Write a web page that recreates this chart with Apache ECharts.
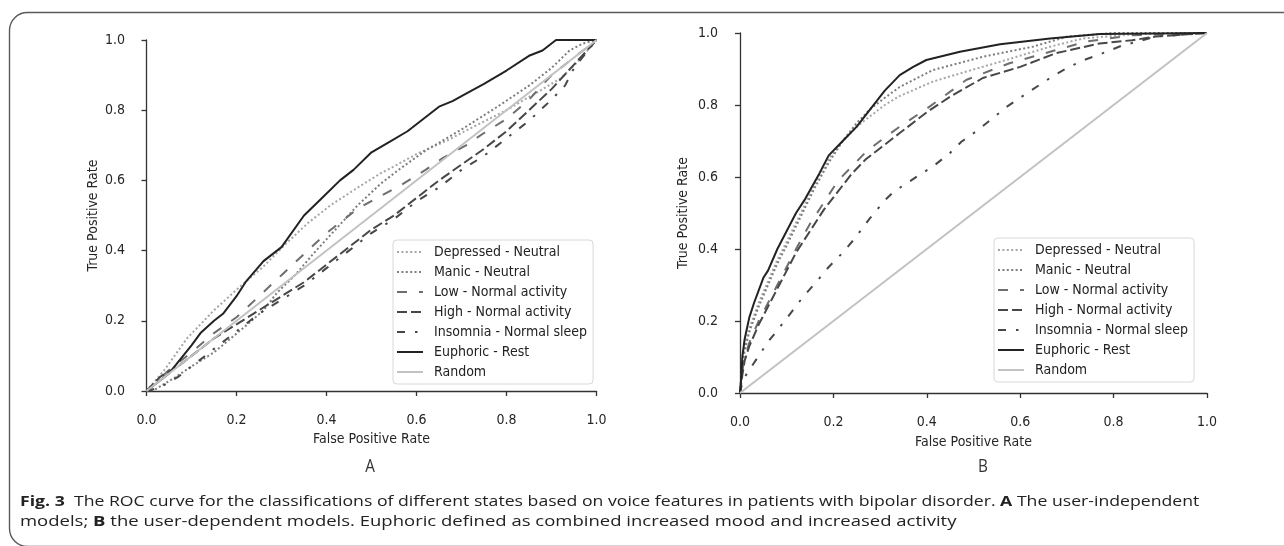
<!DOCTYPE html>
<html>
<head>
<meta charset="utf-8">
<script src="https://cdn.jsdelivr.net/npm/echarts@6/dist/echarts.min.js"></script>
<style>
html,body{margin:0;padding:0;background:#fff;}
#main{width:1284px;height:546px;}
</style>
</head>
<body>
<div id="main"></div>
<script>
// legend names, in plotting order
var names = ['Depressed - Neutral', 'Manic - Neutral', 'Low - Normal activity',
	'High - Normal activity', 'Insomnia - Normal sleep', 'Euphoric - Rest', 'Random'];

// panel A : user-independent models  [fpr, tpr]
var depressedA = [[0,0],[0.04,0.06],[0.09,0.15],[0.15,0.23],[0.21,0.3],[0.26,0.355],[0.31,0.42],[0.36,0.48],
	[0.41,0.53],[0.47,0.58],[0.52,0.62],[0.55,0.64],[0.6,0.675],[0.67,0.715],[0.73,0.755],[0.8,0.8],
	[0.86,0.845],[0.92,0.89],[0.96,0.94],[1,1]];
var manicA = [[0,0],[0.02,0.005],[0.065,0.04],[0.1,0.07],[0.15,0.11],[0.22,0.185],[0.26,0.23],[0.29,0.28],
	[0.33,0.33],[0.37,0.39],[0.42,0.46],[0.47,0.53],[0.52,0.59],[0.56,0.63],[0.62,0.685],[0.7,0.745],
	[0.78,0.81],[0.85,0.87],[0.9,0.92],[0.94,0.97],[0.97,0.99],[1,1]];
var lowA = [[0,0],[0.05,0.06],[0.1,0.11],[0.15,0.165],[0.2,0.21],[0.25,0.27],[0.3,0.33],[0.35,0.39],
	[0.4,0.45],[0.47,0.52],[0.52,0.555],[0.57,0.59],[0.62,0.63],[0.66,0.665],[0.71,0.7],[0.75,0.735],
	[0.8,0.775],[0.85,0.83],[0.9,0.9],[0.95,0.95],[1,1]];
var highA = [[0,0],[0.03,0.04],[0.07,0.07],[0.1,0.1],[0.15,0.15],[0.2,0.19],[0.25,0.23],[0.3,0.27],
	[0.35,0.31],[0.4,0.36],[0.45,0.41],[0.5,0.46],[0.55,0.5],[0.6,0.55],[0.65,0.6],[0.7,0.645],
	[0.75,0.69],[0.8,0.74],[0.85,0.8],[0.9,0.86],[0.95,0.93],[1,1]];
var insomniaA = [[0,0],[0.03,0.01],[0.07,0.04],[0.1,0.07],[0.15,0.12],[0.2,0.17],[0.23,0.2],[0.25,0.22],
	[0.3,0.26],[0.35,0.3],[0.4,0.35],[0.45,0.4],[0.5,0.45],[0.55,0.49],[0.6,0.54],[0.65,0.58],
	[0.7,0.63],[0.75,0.67],[0.8,0.72],[0.85,0.77],[0.9,0.83],[0.93,0.87],[0.95,0.92],[1,1]];
var euphoricA = [[0,0],[0.02,0.02],[0.05,0.05],[0.075,0.09],[0.1,0.13],[0.12,0.165],[0.15,0.2],[0.17,0.22],
	[0.2,0.27],[0.22,0.31],[0.26,0.37],[0.3,0.41],[0.35,0.5],[0.39,0.55],[0.43,0.6],[0.46,0.63],
	[0.5,0.68],[0.54,0.71],[0.58,0.74],[0.62,0.78],[0.65,0.81],[0.68,0.826],[0.7,0.84],[0.75,0.875],
	[0.8,0.913],[0.85,0.955],[0.88,0.97],[0.91,1],[1,1]];

// panel B : user-dependent models
var depressedB = [[0,0],[0.005,0.08],[0.01,0.13],[0.02,0.18],[0.04,0.25],[0.06,0.31],[0.08,0.37],[0.1,0.42],
	[0.13,0.5],[0.16,0.58],[0.19,0.65],[0.22,0.7],[0.25,0.74],[0.28,0.77],[0.31,0.8],[0.342,0.825],
	[0.413,0.865],[0.485,0.893],[0.557,0.92],[0.664,0.962],[0.735,0.985],[0.85,0.997],[1,1]];
var manicB = [[0,0],[0.005,0.07],[0.01,0.12],[0.02,0.17],[0.04,0.24],[0.06,0.3],[0.08,0.36],[0.1,0.41],
	[0.13,0.49],[0.16,0.57],[0.19,0.64],[0.22,0.7],[0.25,0.75],[0.28,0.79],[0.31,0.82],[0.342,0.85],
	[0.413,0.897],[0.52,0.934],[0.627,0.962],[0.7,0.99],[0.8,1],[1,1]];
var lowB = [[0,0],[0.005,0.06],[0.01,0.1],[0.02,0.14],[0.04,0.2],[0.06,0.25],[0.08,0.3],[0.1,0.35],
	[0.12,0.4],[0.15,0.47],[0.18,0.53],[0.21,0.59],[0.24,0.63],[0.27,0.67],[0.3,0.7],[0.342,0.74],
	[0.4,0.79],[0.45,0.837],[0.485,0.87],[0.577,0.916],[0.664,0.948],[0.741,0.976],[0.84,0.994],[1,1]];
var highB = [[0,0],[0.005,0.05],[0.01,0.09],[0.02,0.13],[0.04,0.19],[0.06,0.24],[0.08,0.29],[0.1,0.34],
	[0.12,0.39],[0.15,0.45],[0.18,0.51],[0.21,0.56],[0.24,0.61],[0.27,0.65],[0.3,0.68],[0.342,0.722],
	[0.4,0.78],[0.45,0.823],[0.52,0.875],[0.6,0.906],[0.677,0.944],[0.77,0.971],[0.84,0.98],[0.89,0.99],[1,1]];
var insomniaB = [[0,0],[0.005,0.03],[0.015,0.055],[0.039,0.101],[0.06,0.142],[0.086,0.184],[0.111,0.226],
	[0.135,0.267],[0.161,0.305],[0.19,0.35],[0.22,0.39],[0.243,0.425],[0.278,0.485],[0.31,0.535],[0.33,0.56],
	[0.36,0.585],[0.383,0.605],[0.413,0.629],[0.449,0.666],[0.474,0.698],[0.509,0.73],[0.541,0.763],
	[0.57,0.794],[0.602,0.822],[0.637,0.852],[0.67,0.88],[0.705,0.906],[0.741,0.927],[0.777,0.944],
	[0.816,0.964],[0.851,0.976],[0.89,0.99],[1,1]];
var euphoricB = [[0,0],[0.002,0.03],[0.005,0.1],[0.01,0.15],[0.02,0.21],[0.03,0.25],[0.05,0.32],[0.06,0.34],
	[0.08,0.4],[0.1,0.45],[0.12,0.5],[0.14,0.54],[0.17,0.61],[0.19,0.66],[0.22,0.7],[0.25,0.74],
	[0.28,0.79],[0.31,0.84],[0.342,0.883],[0.37,0.905],[0.399,0.925],[0.471,0.948],[0.557,0.969],
	[0.664,0.985],[0.771,0.997],[1,1]];

var randomLine = [[0,0],[1,1]];

var dataA = [depressedA, manicA, lowA, highA, insomniaA, euphoricA, randomLine];
var dataB = [depressedB, manicB, lowB, highB, insomniaB, euphoricB, randomLine];

// line looks for each curve
var looks = [
	{color: '#a6a6a6', width: 2, type: [2, 2.4]},
	{color: '#7d7d7d', width: 2, type: [2, 2.4]},
	{color: '#6e6e6e', width: 2, type: [10, 12]},
	{color: '#474747', width: 2, type: [10, 4]},
	{color: '#474747', width: 2, type: [8, 10, 2.5, 10]},
	{color: '#222222', width: 2, type: 'solid'},
	{color: '#c2c2c2', width: 2, type: 'solid'}
];

var font = 'DejaVu Sans Condensed';

function makeSeries(data, idx){
	var out = [];
	for (var i = 0; i < names.length; i++) {
		out.push({
			name: names[i],
			type: 'line',
			xAxisIndex: idx,
			yAxisIndex: idx,
			data: data[i],
			symbol: 'none',
			showSymbol: false,
			smooth: false,
			lineStyle: {color: looks[i].color, width: looks[i].width, type: looks[i].type, cap: 'butt'},
			itemStyle: {color: looks[i].color},
			emphasis: {disabled: true},
			z: 2 + i
		});
	}
	return out;
}

function axis(idx, offset, gap, isY){
	return {
		type: 'value',
		gridIndex: idx,
		min: 0,
		max: 1,
		interval: 0.2,
		offset: offset,
		name: isY ? 'True Positive Rate' : 'False Positive Rate',
		nameLocation: 'middle',
		nameGap: gap,
		nameTextStyle: {fontFamily: font, fontSize: 14, color: '#262626'},
		axisLine: {show: true, lineStyle: {color: '#333', width: 1.3}},
		axisTick: {show: true, length: 5, lineStyle: {color: '#333', width: 1.3}},
		axisLabel: {
			fontFamily: font, fontSize: 14, color: '#262626', margin: 8,
			formatter: function(v){ return v.toFixed(1); }
		},
		splitLine: {show: false}
	};
}

function legend(left, top){
	return {
		orient: 'vertical',
		left: left,
		top: top,
		data: names,
		itemWidth: 26,
		itemHeight: 14,
		itemGap: 6,
		padding: [5, 6, 5, 3],
		backgroundColor: 'rgba(255,255,255,0.85)',
		borderColor: '#d8d8d8',
		borderWidth: 1,
		borderRadius: 4,
		itemStyle: {opacity: 0},
		textStyle: {fontFamily: font, fontSize: 14, color: '#222', padding: [0, 0, 0, 6]}
	};
}

// caption text squeezed to the width it has in the figure
var capFont = 'Open Sans';
var cap1 = 'Fig. 3  The ROC curve for the classifications of different states based on voice features in patients with bipolar disorder. A The user-independent';
var cap2 = 'models; B the user-dependent models. Euphoric defined as combined increased mood and increased activity';
var ctx = document.createElement('canvas').getContext('2d');
ctx.font = '15px "' + capFont + '"';
var sx1 = 1176 / ctx.measureText(cap1).width;
var sx2 = 936 / ctx.measureText(cap2).width;
var rich = {b: {fontWeight: 'bold', fontFamily: capFont, fontSize: 15, fill: '#222'}};

var myChart = echarts.init(document.getElementById('main'));

option = {
	animation: false,
	backgroundColor: '#fff',
	grid: [
		{left: 146.5, top: 40, width: 450, height: 351},
		{left: 740, top: 33, width: 467, height: 360}
	],
	xAxis: [axis(0, 14, 27, false), axis(1, 14, 28, false)],
	yAxis: [axis(0, 13.5, 33, true), axis(1, 14, 36, true)],
	legend: [legend(393, 240), legend(994, 238)],
	series: makeSeries(dataA, 0).concat(makeSeries(dataB, 1)),
	graphic: [
		{type: 'rect', silent: true, shape: {x: 9.5, y: 12.5, width: 1320, height: 534, r: 18},
			style: {fill: 'none', stroke: '#5a5a5a', lineWidth: 1.4}},
		{type: 'text', x: 370, y: 467, scaleX: 0.85, silent: true,
			style: {text: 'A', fontFamily: capFont, fontSize: 18, fill: '#333', align: 'center', verticalAlign: 'middle'}},
		{type: 'text', x: 983, y: 467, scaleX: 0.85, silent: true,
			style: {text: 'B', fontFamily: capFont, fontSize: 18, fill: '#333', align: 'center', verticalAlign: 'middle'}},
		{type: 'text', x: 20, y: 502, scaleX: sx1, silent: true,
			style: {text: '{b|Fig. 3}  The ROC curve for the classifications of different states based on voice features in patients with bipolar disorder. {b|A} The user-independent',
				rich: rich, fontFamily: capFont, fontSize: 15, fill: '#222', verticalAlign: 'middle'}},
		{type: 'text', x: 20, y: 522, scaleX: sx2, silent: true,
			style: {text: 'models; {b|B} the user-dependent models. Euphoric defined as combined increased mood and increased activity',
				rich: rich, fontFamily: capFont, fontSize: 15, fill: '#222', verticalAlign: 'middle'}}
	]
};

myChart.setOption(option);
</script>
</body>
</html>
